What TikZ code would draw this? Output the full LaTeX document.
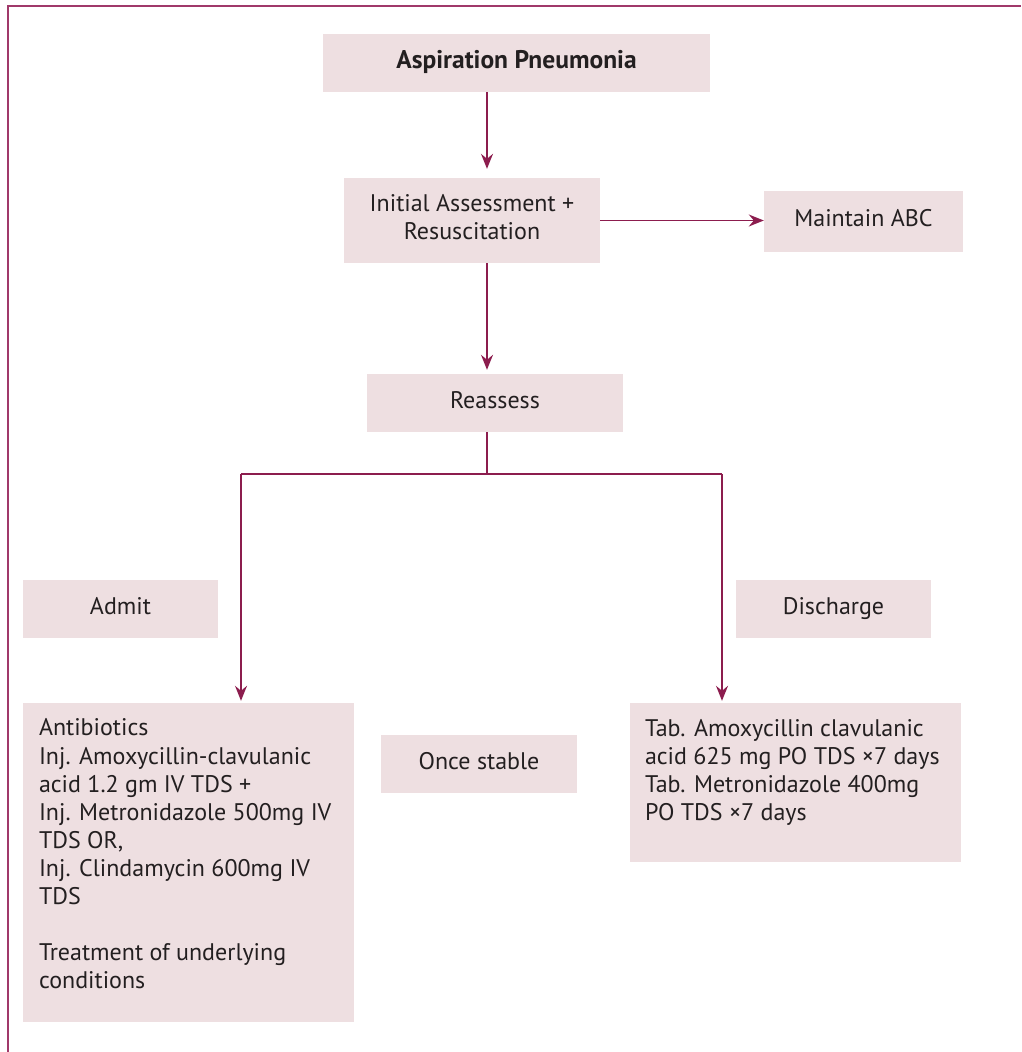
\documentclass[tikz,border=0pt]{standalone}
\usepackage{fontspec}
\setmainfont{PT Sans}
\usetikzlibrary{arrows.meta}
\definecolor{linec}{HTML}{8C1D4E}
\definecolor{framec}{HTML}{A0396A}
\definecolor{boxc}{HTML}{EEDFE1}
\definecolor{txt}{HTML}{231F20}
\begin{document}
\begin{tikzpicture}[x=1pt,y=-1pt,
  box/.style={fill=boxc, inner sep=0pt, text=txt, align=center,
    font=\fontsize{24}{28}\selectfont},
  one/.style={text height=17pt, text depth=7pt},
  label/.style={inner sep=0pt, text=txt, font=\fontsize{24}{28}\selectfont},
  body/.style={label, align=left, anchor=north west},
  conn/.style={draw=linec, line width=1.5pt},
  arr/.style={conn, -{Stealth[length=15pt,width=12pt,inset=5pt]}}]
\useasboundingbox (0,0) rectangle (1021,1052);

% page frame
\draw[framec, line width=2pt] (7.5,1052) -- (7.5,5.5) -- (1021,5.5);

% boxes
\node[box, one, minimum width=387pt, minimum height=58pt,
  font=\fontsize{25.5}{28}\selectfont\bfseries] (asp) at (516.5,63) {Aspiration Pneumonia};
\node[box, minimum width=256pt, minimum height=85pt] (init) at (472,220.5) {};
\node[label, align=center] (initlbl) at ([yshift=3pt]init.center) {Initial Assessment +\\Resuscitation};
\node[box, one, minimum width=199pt, minimum height=61pt] (abc) at (863.5,221) {Maintain ABC};
\node[box, one, minimum width=256pt, minimum height=58pt] (reas) at (495,403) {Reassess};
\node[box, one, minimum width=195pt, minimum height=58pt] (admit) at (120.5,609) {Admit};
\node[box, one, minimum width=195pt, minimum height=58pt] (disch) at (833.5,609) {Discharge};
\node[box, minimum width=331pt, minimum height=319pt] (anti) at (188.5,862.5) {};
\node[box, one, minimum width=196pt, minimum height=58pt] (stable) at (479,764) {Once stable};
\node[box, minimum width=331pt, minimum height=159pt] (tab) at (795.5,782.5) {};

\node[body] (antitxt) at ([xshift=16pt,yshift=-15pt]anti.north west) {Antibiotics\\[1pt]
Inj. Amoxycillin-clavulanic\\
acid 1.2 gm IV TDS +\\
Inj. Metronidazole 500mg IV\\
TDS OR,\\
Inj. Clindamycin 600mg IV\\
TDS\\[28pt]
Treatment of underlying\\
conditions};
\node[body] (tabtxt) at ([xshift=15pt,yshift=-16pt]tab.north west) {Tab. Amoxycillin clavulanic\\
acid 625 mg PO TDS ×7 days\\
Tab. Metronidazole 400mg\\
PO TDS ×7 days};

% connectors
\coordinate (cx) at (487,0);
\coordinate (split) at (487,474);
\coordinate (lx) at (241,474);
\coordinate (rx) at (722,474);
\draw[arr, shorten >=9pt] (asp.south -| cx) -- (init.north -| cx);
\draw[arr] (init.east) -- (init.east -| abc.west);
\draw[arr, shorten >=4pt] (init.south -| cx) -- (reas.north -| cx);
\draw[conn] (reas.south -| cx) -- (split);
\draw[conn] (lx) -- (rx);
\draw[arr, shorten >=2pt] (lx) -- (lx |- anti.north);
\draw[arr, shorten >=2pt] (rx) -- (rx |- tab.north);
\end{tikzpicture}
\end{document}
